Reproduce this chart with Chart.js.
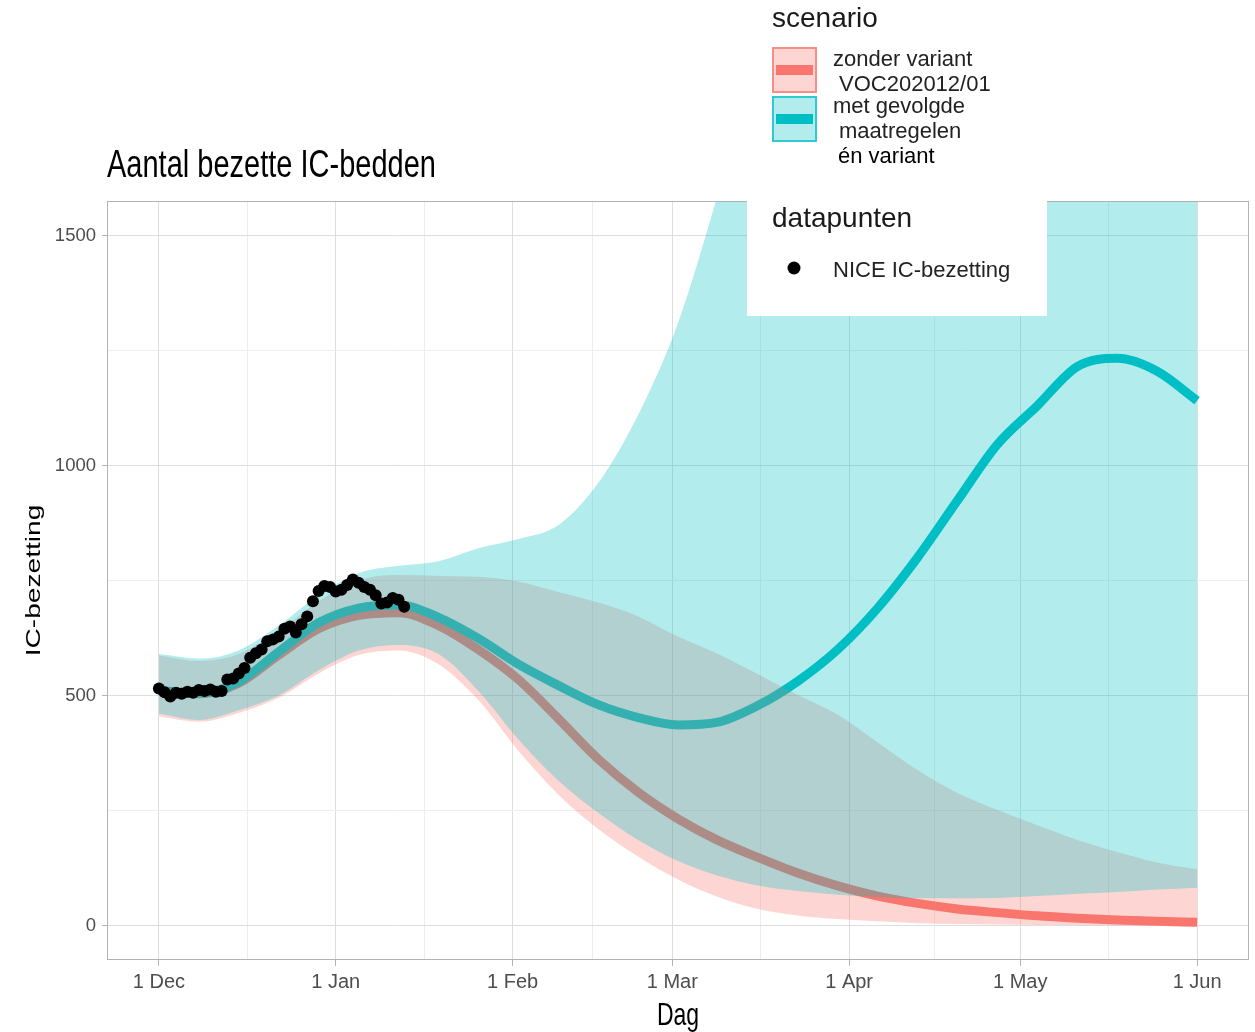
<!DOCTYPE html>
<html>
<head>
<meta charset="utf-8">
<title>Aantal bezette IC-bedden</title>
<script src="https://cdn.jsdelivr.net/npm/chart.js@4.4.0/dist/chart.umd.min.js"></script>
<style>
    body { margin: 0; background: #ffffff; }
    #wrap { width: 1255px; height: 1032px; }
</style>
</head>
<body>
<div id="wrap"><canvas id="icChart" width="1255" height="1032"></canvas></div>
<script>
// Model days (days since 1 Dec), weekly samples
const modelDays = [0, 7, 14, 21, 28, 35, 42, 49, 56, 63, 70, 77, 84, 91, 98, 105, 112, 119, 126, 133, 140, 147, 154, 161, 168, 175, 182];

// Scenario: zonder variant VOC202012/01
const zonderMedian = [510, 504, 527, 588, 645, 674, 680, 652, 600, 535, 450, 362, 290, 232, 185, 148, 114, 86, 64, 48, 36, 28, 21, 16, 12, 9, 7];
const zonderLower  = [455, 443, 462, 495, 548, 588, 598, 568, 490, 380, 285, 210, 150, 100, 62, 36, 22, 14, 9, 5, 3, 2, 1, 1, 0, 0, 0];
const zonderUpper  = [587, 575, 590, 640, 705, 750, 762, 760, 758, 748, 725, 702, 672, 628, 590, 546, 501, 458, 398, 338, 288, 251, 218, 186, 160, 137, 122];

// Scenario: met gevolgde maatregelen en variant
const metMedian = [511, 505, 530, 595, 658, 690, 697, 670, 624, 568, 522, 480, 452, 436, 442, 478, 531, 600, 690, 800, 924, 1046, 1130, 1215, 1233, 1205, 1141];
const metLower  = [461, 447, 468, 500, 555, 598, 610, 590, 510, 405, 315, 245, 186, 140, 108, 87, 75, 67, 62, 59, 59, 60, 64, 69, 73, 78, 82];
const metUpper  = [590, 580, 598, 652, 718, 766, 782, 792, 820, 840, 870, 962, 1110, 1310, 1590, 1900, 2250, 2650, 3100, 3600, 4100, 4700, 5300, 6000, 6700, 7500, 8300];

// NICE IC-bezetting, daily from 1 Dec
const niceDays = [0, 1, 2, 3, 4, 5, 6, 7, 8, 9, 10, 11, 12, 13, 14, 15, 16, 17, 18, 19, 20, 21, 22, 23, 24, 25, 26, 27, 28, 29, 30, 31, 32, 33, 34, 35, 36, 37, 38, 39, 40, 41, 42, 43];
const niceValues = [515, 507, 498, 506, 504, 508, 506, 512, 510, 513, 508, 510, 535, 537, 548, 560, 582, 592, 600, 618, 622, 628, 645, 650, 637, 655, 672, 705, 727, 738, 736, 726, 730, 740, 752, 745, 736, 730, 718, 700, 702, 712, 708, 693];

// Axis ticks
const monthTickDays = [0, 31, 62, 90, 121, 151, 182];
const monthTickLabels = ['1 Dec', '1 Jan', '1 Feb', '1 Mar', '1 Apr', '1 May', '1 Jun'];
const midMonthDays = [15.5, 46.5, 76, 105.5, 136, 166.5];
const yMajorTicks = [0, 500, 1000, 1500];
const yMinorTicks = [250, 750, 1250];

const RED = '#F8766D';
const TEAL = '#00BFC4';
const RED_FILL = 'rgba(248, 118, 109, 0.3)';
const TEAL_FILL = 'rgba(0, 191, 196, 0.3)';
const TICK_FONT = "'Liberation Sans', Arial, sans-serif";

function toPoints(days, values) {
    return days.map((d, i) => ({ x: d, y: values[i] }));
}

// Text stretched vertically like the original picture
function stretchedText(ctx, text, x, y, font, align, stretch, rotate, color) {
    ctx.save();
    ctx.translate(x, y);
    if (rotate) {
        ctx.rotate(-Math.PI / 2);
        ctx.scale(stretch, 1);
    } else {
        ctx.scale(1, stretch);
    }
    ctx.font = font;
    ctx.fillStyle = color;
    ctx.textAlign = align;
    ctx.textBaseline = 'alphabetic';
    ctx.fillText(text, 0, 0);
    ctx.restore();
}

function legendKey(ctx, top, fill, stroke) {
    ctx.fillStyle = fill;
    ctx.fillRect(772, top, 45, 46);
    ctx.strokeStyle = stroke;
    ctx.globalAlpha = 0.75;
    ctx.lineWidth = 2;
    ctx.strokeRect(773, top + 1, 43, 44);
    ctx.globalAlpha = 1;
    ctx.lineWidth = 10;
    ctx.beginPath();
    ctx.moveTo(776, top + 23);
    ctx.lineTo(813, top + 23);
    ctx.stroke();
}

// Panel border, titles and the pasted-on legend
const decorations = {
    id: 'decorations',
    afterDraw(chart) {
        const ctx = chart.ctx;
        const a = chart.chartArea;
        ctx.save();
        ctx.strokeStyle = '#b3b3b3';
        ctx.lineWidth = 1;
        ctx.strokeRect(a.left + 0.5, a.top + 0.5, a.right - a.left - 1, a.bottom - a.top - 1);

        stretchedText(ctx, 'Aantal bezette IC-bedden', 107, 177, '29px "Liberation Sans", Arial', 'left', 1.34, false, '#000');
        stretchedText(ctx, 'Dag', (a.left + a.right) / 2, 1025, '23px "Liberation Sans", Arial', 'center', 1.34, false, '#000');
        stretchedText(ctx, 'IC-bezetting', 40, (a.top + a.bottom) / 2, '21px "Liberation Sans", Arial', 'center', 1.34, true, '#000');

        // scenario legend
        ctx.textAlign = 'left';
        ctx.textBaseline = 'alphabetic';
        ctx.fillStyle = '#1a1a1a';
        ctx.font = '28px "Liberation Sans", Arial';
        ctx.fillText('scenario', 772, 27);
        legendKey(ctx, 47, RED_FILL, RED);
        legendKey(ctx, 96, TEAL_FILL, TEAL);
        ctx.fillStyle = '#222';
        ctx.font = '22px "Liberation Sans", Arial';
        ctx.fillText('zonder variant', 833, 66);
        ctx.fillText('VOC202012/01', 839, 91);
        ctx.fillText('met gevolgde', 833, 113);
        ctx.fillText('maatregelen', 839, 138);
        ctx.fillStyle = '#000';
        ctx.font = '22px Arial, "Liberation Sans"';
        ctx.fillText('én variant', 838, 163);

        // datapunten legend box
        ctx.fillStyle = '#ffffff';
        ctx.fillRect(747, 200, 300, 116);
        ctx.fillStyle = '#1a1a1a';
        ctx.font = '28px "Liberation Sans", Arial';
        ctx.fillText('datapunten', 772, 227);
        ctx.fillStyle = '#000';
        ctx.beginPath();
        ctx.arc(794, 268, 6.5, 0, Math.PI * 2);
        ctx.fill();
        ctx.fillStyle = '#222';
        ctx.font = '22px "Liberation Sans", Arial';
        ctx.fillText('NICE IC-bezetting', 833, 277);
        ctx.restore();
    }
};

function bandEdge(values, order) {
    return {
        data: toPoints(modelDays, values),
        borderWidth: 0,
        pointRadius: 0,
        fill: false,
        cubicInterpolationMode: 'monotone',
        order: order
    };
}

const ctxEl = document.getElementById('icChart');
const icChart = new Chart(ctxEl, {
    type: 'line',
    data: {
        datasets: [
            {
                label: 'zonder variant VOC202012/01',
                data: toPoints(modelDays, zonderMedian),
                borderColor: RED,
                borderWidth: 9,
                borderCapStyle: 'butt',
                pointRadius: 0,
                fill: false,
                cubicInterpolationMode: 'monotone',
                order: 12
            },
            bandEdge(zonderLower, 8),
            Object.assign(bandEdge(zonderUpper, 7), { fill: { target: 1 }, backgroundColor: RED_FILL }),
            bandEdge(metLower, 5),
            Object.assign(bandEdge(metUpper, 4), { fill: { target: 3 }, backgroundColor: TEAL_FILL }),
            {
                label: 'met gevolgde maatregelen en variant',
                data: toPoints(modelDays, metMedian),
                borderColor: TEAL,
                borderWidth: 9,
                borderCapStyle: 'butt',
                pointRadius: 0,
                fill: false,
                cubicInterpolationMode: 'monotone',
                order: 11
            },
            {
                label: 'NICE IC-bezetting',
                data: toPoints(niceDays, niceValues),
                showLine: false,
                pointRadius: 6,
                pointBorderWidth: 0,
                pointBackgroundColor: '#000',
                order: 0
            }
        ]
    },
    options: {
        responsive: false,
        animation: false,
        layout: { padding: { top: 201, right: 2, left: 0, bottom: 0 } },
        plugins: {
            legend: { display: false },
            tooltip: { enabled: false }
        },
        scales: {
            x: {
                type: 'linear',
                min: -9.1,
                max: 191.1,
                bounds: 'data',
                afterBuildTicks: s => { s.ticks = monthTickDays.concat(midMonthDays).sort((p, q) => p - q).map(v => ({ value: v })); },
                afterFit: s => { s.height = 72; },
                border: { display: false },
                grid: {
                    color: c => monthTickDays.includes(c.tick.value) ? '#dedede' : '#eeeeee',
                    tickColor: c => monthTickDays.includes(c.tick.value) ? '#b3b3b3' : 'rgba(0,0,0,0)',
                    tickLength: 6,
                    lineWidth: 1
                },
                ticks: {
                    autoSkip: false,
                    maxRotation: 0,
                    padding: 4,
                    color: '#4d4d4d',
                    font: { family: TICK_FONT, size: 20 },
                    callback: v => {
                        const i = monthTickDays.indexOf(v);
                        return i >= 0 ? monthTickLabels[i] : '';
                    }
                }
            },
            y: {
                type: 'linear',
                min: -75,
                max: 1575,
                bounds: 'data',
                afterBuildTicks: s => { s.ticks = yMajorTicks.concat(yMinorTicks).sort((p, q) => p - q).map(v => ({ value: v })); },
                afterFit: s => { s.width = 107; },
                border: { display: false },
                grid: {
                    color: c => yMajorTicks.includes(c.tick.value) ? '#dedede' : '#eeeeee',
                    tickColor: c => yMajorTicks.includes(c.tick.value) ? '#b3b3b3' : 'rgba(0,0,0,0)',
                    tickLength: 5,
                    lineWidth: 1
                },
                ticks: {
                    autoSkip: false,
                    padding: 6,
                    color: '#4d4d4d',
                    font: { family: TICK_FONT, size: 18.5 },
                    callback: v => yMajorTicks.includes(v) ? String(v) : ''
                }
            }
        }
    },
    plugins: [decorations]
});
</script>
</body>
</html>
